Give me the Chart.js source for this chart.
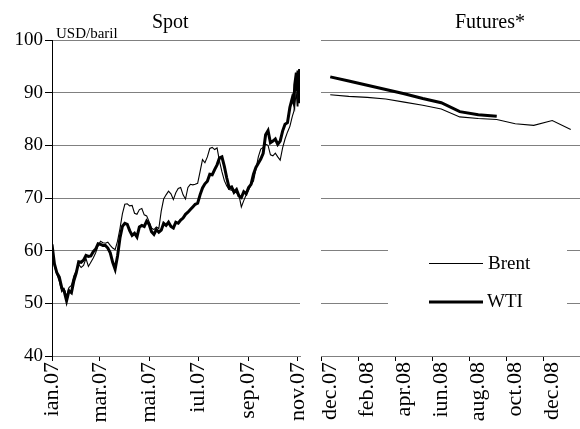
<!DOCTYPE html>
<html>
<head>
<meta charset="utf-8">
<script src="https://cdn.jsdelivr.net/npm/chart.js@4.4.1/dist/chart.umd.min.js"></script>
<style>
  body { margin: 0; background: #fff; }
  #wrap { position: relative; width: 580px; height: 429px; overflow: hidden; font-family: "Liberation Serif", "Times New Roman", serif; color: #000; }
  canvas { position: absolute; top: 0; }
  .lbl { position: absolute; white-space: nowrap; line-height: 1; }
</style>
</head>
<body>
<div id="wrap">
  <canvas id="spotChart" width="310" height="429" style="left:0"></canvas>
  <canvas id="futChart" width="282" height="429" style="left:300px"></canvas>
  <div class="lbl" style="left:152px; top:11px; font-size:20px;">Spot</div>
  <div class="lbl" style="left:455px; top:11px; font-size:20px;">Futures*</div>
  <div class="lbl" style="left:56px; top:26px; font-size:15px;">USD/baril</div>
</div>
<script>
// Spot panel: day number counted from 1 jan 2007
const spotDays = [
  0, 3, 6, 9, 12, 15, 18, 21, 24, 27,
  30, 33, 36, 39, 42, 45, 48, 51, 54, 57,
  60, 63, 66, 69, 72, 75, 78, 81, 84, 87,
  90, 93, 96, 99, 102, 105, 108, 111, 114, 117,
  120, 123, 126, 129, 132, 135, 138, 141, 144, 147,
  150, 153, 156, 159, 162, 165, 168, 171, 174, 177,
  180, 183, 186, 189, 192, 195, 198, 201, 204, 207,
  210, 213, 216, 219, 222, 225, 228, 231, 234, 237,
  240, 243, 246, 249, 252, 255, 258, 261, 264, 267,
  270, 273, 276, 279, 282, 285, 288, 291, 294,
  297, 299, 300, 302, 303, 304, 305, 306
];
const spotWTI = [
  61.2, 57.5, 55.8, 55.0, 53.0, 52.3, 50.5, 52.4, 52.0, 54.3,
  55.8, 57.9, 57.8, 58.2, 59.1, 58.9, 59.0, 59.8, 60.3, 61.3,
  61.2, 61.0, 61.0, 60.5, 59.6, 57.8, 56.5, 59.0, 62.4, 64.6,
  65.2, 65.0, 63.8, 62.9, 63.3, 62.6, 64.5, 64.8, 64.6, 65.6,
  65.0, 63.6, 63.1, 64.0, 63.5, 63.9, 65.2, 64.8, 65.4, 64.6,
  64.3, 65.4, 65.2, 65.8, 66.2, 66.9, 67.3, 67.8, 68.3, 68.8,
  69.0, 70.6, 71.9, 72.7, 73.2, 74.5, 74.4, 75.4, 76.3, 77.6,
  77.8, 76.0, 73.8, 71.9, 72.1, 71.1, 71.6, 70.4, 70.1, 71.2,
  70.8, 72.0, 72.6, 74.5, 75.8, 76.6, 77.4, 78.5, 82.0, 82.8,
  80.5, 80.8, 81.2, 80.2, 80.8, 82.7, 84.0, 84.3, 87.2,
  89.0, 88.0, 91.5, 93.8, 90.5, 94.2, 88.0, 94.5
];
const spotBrent = [
  60.5, 57.0, 55.5, 54.2, 52.2, 52.8, 51.3, 53.0, 53.4, 55.2,
  56.2, 57.4, 56.8, 57.2, 58.5, 57.0, 57.8, 58.6, 59.6, 61.0,
  61.8, 61.5, 61.4, 61.6, 61.0, 60.5, 60.2, 61.8, 64.2, 67.0,
  68.8, 68.9, 68.5, 68.6, 67.1, 66.9, 67.8, 68.0, 66.8, 66.6,
  65.5, 64.3, 64.0, 64.5, 64.2, 67.5, 69.8, 70.6, 71.3, 70.8,
  69.7, 71.0, 71.8, 72.0, 70.6, 69.8, 72.0, 72.6, 72.5, 72.6,
  72.8, 75.0, 77.3, 76.7, 77.8, 79.4, 79.6, 79.2, 79.5, 77.0,
  75.0, 73.3, 72.3, 71.6, 71.5, 71.2, 71.0, 70.6, 68.3, 69.5,
  70.6, 71.5, 72.5, 73.2, 75.5, 77.8, 79.3, 79.6, 80.2, 80.0,
  78.2, 78.0, 78.5, 77.8, 77.2, 79.5, 81.2, 82.5, 83.6,
  85.5, 86.5, 88.0, 89.8, 87.5, 91.5, 88.5, 91.0
];
const spotTickDays = [0, 59, 120, 181, 243, 304];
const spotTickLabels = ['ian.07', 'mar.07', 'mai.07', 'iul.07', 'sep.07', 'nov.07'];

// Futures panel
const futMonths = ['dec.07', 'ian.08', 'feb.08', 'mar.08', 'apr.08', 'mai.08', 'iun.08',
  'iul.08', 'aug.08', 'sep.08', 'oct.08', 'noi.08', 'dec.08', 'ian.09'];
const futBrent = [89.6, 89.3, 89.1, 88.8, 88.2, 87.6, 86.9, 85.4, 85.1, 84.9, 84.1, 83.8, 84.7, 83.0];
const futWTI = [93.0, 92.2, 91.4, 90.6, 89.8, 88.9, 88.1, 86.4, 85.8, 85.5, null, null, null, null];

const yMin = 40, yMax = 100, yStep = 10;
const serif = "'Liberation Serif', 'Times New Roman', serif";
const gridGray = '#808080';

// keep the x axis from reserving room for its end labels
function noSidePadding(scale) {
  scale.height = 73;
  scale.paddingLeft = 0;
  scale.paddingRight = 0;
}

// Spot chart
new Chart(document.getElementById('spotChart'), {
  type: 'line',
  data: {
    datasets: [
      {
        label: 'Brent',
        data: spotDays.map((d, i) => ({ x: d, y: spotBrent[i] })),
        borderColor: '#000',
        borderWidth: 1.1,
        pointRadius: 0,
        tension: 0
      },
      {
        label: 'WTI',
        data: spotDays.map((d, i) => ({ x: d, y: spotWTI[i] })),
        borderColor: '#000',
        borderWidth: 3,
        pointRadius: 0,
        tension: 0
      }
    ]
  },
  options: {
    responsive: false,
    animation: false,
    devicePixelRatio: 1,
    layout: { padding: { top: 40, right: 10, left: 0, bottom: 0 } },
    plugins: { legend: { display: false }, tooltip: { enabled: false } },
    scales: {
      x: {
        type: 'linear',
        min: 0,
        max: 306.5,
        afterBuildTicks: scale => {
          scale.ticks = spotTickDays.map(v => ({ value: v }));
        },
        afterFit: noSidePadding,
        ticks: {
          autoSkip: false,
          maxRotation: 90,
          minRotation: 90,
          padding: 1,
          color: '#000',
          font: { family: serif, size: 22 },
          callback: value => spotTickLabels[spotTickDays.indexOf(value)]
        },
        grid: { drawOnChartArea: false, tickLength: 5, tickColor: '#000' },
        border: { color: gridGray }
      },
      y: {
        min: yMin,
        max: yMax,
        afterFit: scale => { scale.width = 52; },
        ticks: {
          stepSize: yStep,
          padding: 2,
          color: '#000',
          font: { family: serif, size: 19 }
        },
        grid: { color: gridGray, tickColor: '#000', tickLength: 7 },
        border: { color: '#000' }
      }
    }
  }
});

// Legend drawn inside the futures panel, on a white box
const futLegend = {
  id: 'futLegend',
  afterDraw(chart) {
    const ctx = chart.ctx;
    ctx.save();
    ctx.fillStyle = '#fff';
    ctx.fillRect(88, 240, 179, 76);
    ctx.strokeStyle = '#000';
    ctx.lineWidth = 1.1;
    ctx.beginPath();
    ctx.moveTo(129, 263.5);
    ctx.lineTo(183, 263.5);
    ctx.stroke();
    ctx.lineWidth = 3;
    ctx.beginPath();
    ctx.moveTo(129, 302);
    ctx.lineTo(183, 302);
    ctx.stroke();
    ctx.fillStyle = '#000';
    ctx.font = '19px ' + serif;
    ctx.textBaseline = 'middle';
    ctx.fillText(chart.data.datasets[0].label, 188, 264);
    ctx.fillText(chart.data.datasets[1].label, 187, 302);
    ctx.restore();
  }
};

// Futures chart
new Chart(document.getElementById('futChart'), {
  type: 'line',
  data: {
    labels: futMonths,
    datasets: [
      {
        label: 'Brent',
        data: futBrent,
        borderColor: '#000',
        borderWidth: 1.1,
        pointRadius: 0,
        tension: 0
      },
      {
        label: 'WTI',
        data: futWTI,
        borderColor: '#000',
        borderWidth: 3,
        pointRadius: 0,
        tension: 0
      }
    ]
  },
  options: {
    responsive: false,
    animation: false,
    devicePixelRatio: 1,
    layout: { padding: { top: 40, right: 2, left: 21, bottom: 0 } },
    plugins: { legend: { display: false }, tooltip: { enabled: false } },
    scales: {
      x: {
        type: 'category',
        offset: true,
        afterFit: noSidePadding,
        ticks: {
          autoSkip: false,
          maxRotation: 90,
          minRotation: 90,
          padding: 1,
          color: '#000',
          font: { family: serif, size: 22 },
          callback: (value, index) => index % 2 === 0 ? futMonths[index] : ''
        },
        grid: {
          offset: true,
          drawOnChartArea: false,
          tickLength: 5,
          tickColor: ctx => ctx.index % 2 === 0 ? '#000' : 'rgba(0,0,0,0)'
        },
        border: { color: gridGray }
      },
      y: {
        min: yMin,
        max: yMax,
        afterFit: scale => { scale.width = 0; },
        ticks: { display: false, stepSize: yStep },
        grid: { color: gridGray, drawTicks: false },
        border: { display: false }
      }
    }
  },
  plugins: [futLegend]
});
</script>
</body>
</html>
